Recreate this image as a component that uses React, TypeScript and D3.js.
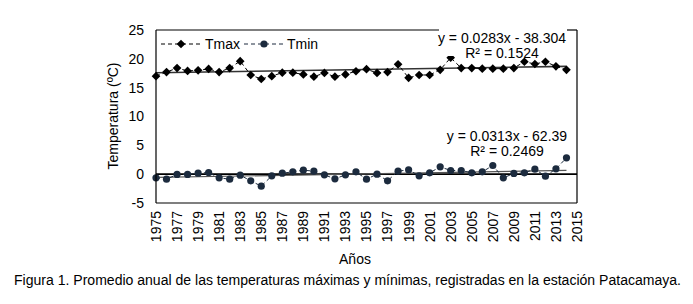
import React from "react";
import * as d3 from "d3";

const years = d3.range(1975, 2015);
const tmax = [17.0, 17.7, 18.4, 17.9, 18.0, 18.25, 17.7, 18.4, 19.6, 17.2, 16.5, 17.0, 17.6, 17.6, 17.3, 16.9, 17.55, 16.9, 17.3, 17.85, 18.2, 17.55, 17.7, 19.05, 16.7, 17.2, 17.2, 18.1, 20.2, 18.4, 18.4, 18.3, 18.3, 18.3, 18.4, 19.5, 19.1, 19.5, 18.7, 18.1];
const tmin = [-0.64, -0.87, -0.05, -0.05, 0.17, 0.29, -0.64, -0.87, -0.17, -1.16, -2.08, -0.29, 0.17, 0.4, 0.69, 0.52, -0.12, -0.81, -0.12, 0.4, -0.87, 0.0, -1.16, 0.52, 0.75, -0.29, 0.23, 1.27, 0.64, 0.64, 0.23, 0.4, 1.5, -0.64, 0.12, 0.23, 0.87, -0.35, 0.92, 2.83];
const trendMax = [0.0283, -38.304];
const trendMin = [0.0313, -62.39];
const yTicks = [-5, 0, 5, 10, 15, 20, 25];
const xTicks = d3.range(1975, 2016, 2);
const seriesNames = ["Tmax", "Tmin"];
const eqMax = ["y = 0.0283x - 38.304", "R² = 0.1524"];
const eqMin = ["y = 0.0313x - 62.39", "R² = 0.2469"];
const caption = "Figura 1. Promedio anual de las temperaturas máximas y mínimas, registradas en la estación Patacamaya.";

const FONT = "'Liberation Sans', Arial, sans-serif";

export default function App() {
  const x = d3.scaleLinear().domain([1975, 2015]).range([156, 577]);
  const y = d3.scaleLinear().domain([-5, 25]).range([203, 30]);
  const line = d3.line<[number, number]>().x(d => x(d[0])).y(d => y(d[1]));
  const maxPts: [number, number][] = years.map((yr, i) => [yr, tmax[i]]);
  const minPts: [number, number][] = years.map((yr, i) => [yr, tmin[i]]);
  const t0 = years[0], t1 = years[years.length - 1];
  const trend = (c: number[]) => line([[t0, c[0] * t0 + c[1]], [t1, c[0] * t1 + c[1]]]);
  const diamond = d3.symbol().type(d3.symbolDiamond2).size(48)();
  const navy = "#1c2b3e";

  return (
    <svg width={693} height={304} style={{ position: "absolute", left: 0, top: 0, background: "#fff" }} fontFamily={FONT}>
      <rect x={0} y={0} width={693} height={304} fill="#fff" />
      {/* zero line */}
      <line x1={x(1975)} x2={x(2015)} y1={y(0)} y2={y(0)} stroke="#000" strokeWidth={1.6} />
      {/* trendlines */}
      <path d={trend(trendMax) || ""} stroke="#333" strokeWidth={1.6} fill="none" />
      <path d={trend(trendMin) || ""} stroke="#555" strokeWidth={1.2} fill="none" />
      {/* series lines */}
      <path d={line(maxPts) || ""} stroke="#000" strokeWidth={1} strokeDasharray="4,3" fill="none" />
      <path d={line(minPts) || ""} stroke={navy} strokeWidth={1} strokeDasharray="4,3" fill="none" />
      {maxPts.map((p, i) => (
        <path key={"d" + i} d={diamond || ""} transform={`translate(${x(p[0])},${y(p[1])})`} fill="#000" />
      ))}
      {minPts.map((p, i) => (
        <circle key={"c" + i} cx={x(p[0])} cy={y(p[1])} r={3.6} fill={navy} />
      ))}
      {/* equation labels */}
      <rect x={439} y={30} width={128} height={26} fill="#fff" />
      <g fontSize={14} textAnchor="middle" fill="#000">
        <text x={502} y={43}>{eqMax[0]}</text>
        <text x={502} y={58}>{eqMax[1]}</text>
        <text x={507} y={141}>{eqMin[0]}</text>
        <text x={507} y={156}>{eqMin[1]}</text>
      </g>
      {/* frame */}
      <line x1={x(1975)} x2={x(1975)} y1={y(25)} y2={y(-5)} stroke="#000" strokeWidth={1.2} />
      <line x1={x(2015)} x2={x(2015)} y1={y(25)} y2={y(-5)} stroke="#000" strokeWidth={1.2} />
      <line x1={x(1975)} x2={x(2015)} y1={y(-5)} y2={y(-5)} stroke="#000" strokeWidth={1.2} />
      <line x1={x(1975)} x2={439} y1={y(25)} y2={y(25)} stroke="#000" strokeWidth={1.2} />
      <line x1={567} x2={x(2015)} y1={y(25)} y2={y(25)} stroke="#000" strokeWidth={1.2} />
      {/* y ticks */}
      <g fontSize={14} textAnchor="end">
        {yTicks.map(t => (
          <text key={t} x={144} y={y(t)} dy="0.35em">{t}</text>
        ))}
      </g>
      {/* x ticks */}
      <g fontSize={14} textAnchor="end">
        {xTicks.map(t => (
          <text key={t} transform={`translate(${x(t)},211) rotate(-90)`} dy="0.35em">{t}</text>
        ))}
      </g>
      {/* legend */}
      <g>
        <line x1={161} x2={200} y1={44} y2={44} stroke="#000" strokeDasharray="4,3" />
        <path d={diamond || ""} transform="translate(181,44)" fill="#000" />
        <text x={205} y={49} fontSize={14}>{seriesNames[0]}</text>
        <line x1={244} x2={283} y1={44} y2={44} stroke={navy} strokeDasharray="4,3" />
        <circle cx={264} cy={44} r={3.6} fill={navy} />
        <text x={287} y={49} fontSize={14}>{seriesNames[1]}</text>
      </g>
      {/* axis titles */}
      <text transform="translate(118,116) rotate(-90)" textAnchor="middle" fontSize={14}>Temperatura (ºC)</text>
      <text x={355} y={264} textAnchor="middle" fontSize={14}>Años</text>
      <text x={14} y={285} fontSize={14} textLength={667} lengthAdjust="spacingAndGlyphs"
        fontFamily="'Liberation Sans Narrow', 'Arial Narrow', 'Liberation Sans', sans-serif">{caption}</text>
    </svg>
  );
}
